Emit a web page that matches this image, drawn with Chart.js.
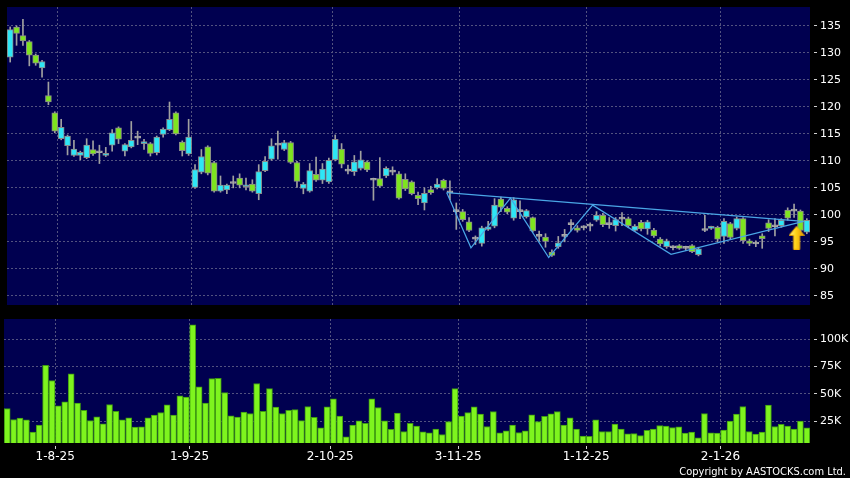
<!DOCTYPE html>
<html><head><meta charset="utf-8">
<script src="https://cdn.jsdelivr.net/npm/chart.js@4.4.1/dist/chart.umd.min.js"></script>
<style>
html,body{margin:0;padding:0;background:#000;width:850px;height:478px;overflow:hidden;}
#p{position:absolute;left:0;top:0;}
#v{position:absolute;left:0;top:312px;}
#copy{position:absolute;right:4px;top:465px;line-height:13px;color:#fff;font-size:11px;font-family:'DejaVu Sans Condensed','DejaVu Sans',sans-serif;white-space:nowrap;}
</style></head><body>
<canvas id="p" width="850" height="312"></canvas>
<canvas id="v" width="850" height="166"></canvas>
<div id="copy">Copyright by AASTOCKS.com Ltd.</div>
<script>
// ---- data ----
const dates = ['23-7-25','24-7-25','25-7-25','28-7-25','29-7-25','30-7-25','31-7-25',
'1-8-25','4-8-25','5-8-25','6-8-25','7-8-25','8-8-25','11-8-25','12-8-25','13-8-25','14-8-25','15-8-25','18-8-25','19-8-25','20-8-25','21-8-25','22-8-25','25-8-25','26-8-25','27-8-25','28-8-25','29-8-25',
'1-9-25','2-9-25','3-9-25','4-9-25','5-9-25','8-9-25','9-9-25','10-9-25','11-9-25','12-9-25','15-9-25','16-9-25','17-9-25','18-9-25','19-9-25','22-9-25','23-9-25','24-9-25','25-9-25','26-9-25','29-9-25','30-9-25',
'2-10-25','3-10-25','6-10-25','8-10-25','9-10-25','10-10-25','13-10-25','14-10-25','15-10-25','16-10-25','17-10-25','20-10-25','21-10-25','22-10-25','23-10-25','24-10-25','27-10-25','28-10-25','30-10-25','31-10-25',
'3-11-25','4-11-25','5-11-25','6-11-25','7-11-25','10-11-25','11-11-25','12-11-25','13-11-25','14-11-25','17-11-25','18-11-25','19-11-25','20-11-25','21-11-25','24-11-25','25-11-25','26-11-25','27-11-25','28-11-25',
'1-12-25','2-12-25','3-12-25','4-12-25','5-12-25','8-12-25','9-12-25','10-12-25','11-12-25','12-12-25','15-12-25','16-12-25','17-12-25','18-12-25','19-12-25','22-12-25','23-12-25','24-12-25','29-12-25','30-12-25','31-12-25',
'2-1-26','5-1-26','6-1-26','7-1-26','8-1-26','9-1-26','12-1-26','13-1-26','14-1-26','15-1-26','16-1-26','19-1-26','20-1-26','21-1-26','22-1-26'];

const open  = [129.2,134.8,133.2,132.1,129.6,127.2,122.1,118.9,114.1,112.8,111.0,111.0,110.6,112.1,111.5,111.0,112.9,116.1,111.8,112.6,114.2,113.2,113.2,111.5,114.9,115.8,118.9,113.5,111.3,105.1,107.9,112.6,109.7,104.4,104.6,105.8,106.8,105.2,105.7,103.9,108.2,110.3,112.9,112.1,113.4,109.7,104.9,104.4,107.5,106.4,106.1,110.2,112.2,108.1,108.0,108.6,109.8,106.4,106.7,107.2,107.9,107.6,106.6,106.1,103.6,102.2,104.7,105.0,106.4,104.1,100.6,100.6,98.7,95.5,94.7,97.3,97.9,102.9,101.2,99.4,100.6,99.6,99.5,96.0,95.9,93.1,94.1,96.0,98.2,97.6,97.6,97.9,99.0,99.9,98.2,98.0,99.2,99.3,97.1,98.6,97.4,97.2,95.5,94.1,93.9,94.3,93.8,94.3,92.6,97.1,97.5,97.7,96.0,98.4,97.5,99.3,95.2,94.6,96.1,98.5,97.8,98.0,100.9,100.7,100.7,96.8];
const high  = [134.8,135.0,136.2,132.3,129.8,128.6,124.6,119.1,117.7,114.8,113.8,111.8,114.1,113.7,112.9,112.5,115.8,116.3,113.2,117.3,115.5,114.0,113.4,114.6,116.1,120.9,119.1,113.7,117.7,109.3,112.1,112.8,109.9,107.2,105.7,107.2,107.6,106.8,106.5,109.3,110.8,114.1,115.5,113.8,113.6,109.9,106.0,109.5,110.7,109.5,110.5,114.8,113.2,109.2,111.0,111.8,110.0,106.8,110.6,108.9,108.9,108.0,107.6,106.3,104.2,105.0,105.3,106.7,106.6,106.3,102.2,101.0,99.5,96.1,97.9,98.8,103.0,103.3,101.5,103.2,102.6,101.0,99.6,97.0,96.5,93.5,96.0,97.3,99.1,98.0,98.0,98.5,100.6,100.3,99.5,99.5,100.4,99.6,98.2,99.0,99.0,97.5,95.8,95.5,94.3,94.5,94.2,94.5,94.0,99.9,97.9,97.9,99.3,98.6,99.6,99.5,95.5,95.2,96.5,99.1,99.3,99.3,101.3,102.0,100.9,99.3];
const low   = [128.3,131.4,131.4,127.6,127.7,125.5,120.4,115.2,113.9,111.1,110.8,110.2,110.4,111.0,109.5,110.8,111.8,113.2,110.9,112.4,113.0,112.1,110.9,111.1,114.4,115.6,114.8,110.9,111.0,104.9,107.6,107.4,104.2,104.2,103.9,105.0,105.0,104.6,104.2,102.8,108.0,110.1,110.3,111.9,109.5,105.1,103.9,104.2,106.2,105.8,105.8,110.0,108.7,107.6,107.3,108.3,108.0,102.7,105.1,106.9,107.4,102.9,104.5,103.7,101.9,100.9,103.8,104.8,104.6,102.8,97.3,98.8,96.9,94.5,94.2,97.1,97.6,100.6,100.2,99.0,99.3,99.4,96.8,95.1,94.0,92.3,93.8,95.0,97.0,96.8,97.2,97.0,98.8,97.8,97.5,97.0,98.0,97.6,96.9,97.0,96.4,95.8,94.2,93.8,93.5,93.6,93.4,93.0,92.4,96.9,97.3,95.0,94.7,95.5,97.2,94.7,94.3,94.1,93.8,96.9,96.1,97.7,99.0,99.5,96.8,96.5];
const close = [134.3,133.6,132.2,129.6,128.1,128.4,120.9,115.5,116.2,114.6,112.2,111.6,112.9,111.3,111.5,111.4,115.2,114.0,113.0,113.8,114.2,113.5,111.4,114.4,115.9,117.7,115.0,111.9,114.4,108.4,110.8,107.7,104.4,105.5,105.5,105.8,105.5,105.5,104.4,108.0,109.9,112.8,112.9,113.4,109.7,106.2,105.7,108.2,106.4,108.5,110.1,114.0,109.4,108.1,109.8,110.2,108.3,106.4,105.3,108.6,107.9,103.1,104.8,103.9,103.0,104.0,104.1,105.7,104.9,104.1,100.6,99.1,97.1,95.5,97.6,97.8,101.8,101.4,100.5,102.8,100.6,100.8,97.0,96.0,95.1,92.5,94.8,96.0,98.2,97.1,97.6,97.9,99.9,98.2,98.2,99.1,99.2,98.0,97.9,97.4,98.7,96.1,94.6,95.2,93.9,93.8,93.8,93.2,93.7,97.1,97.8,95.5,98.8,95.8,99.3,95.2,94.7,94.6,95.6,97.5,97.8,99.0,99.4,100.7,97.1,99.0];
const volume = [36600,26500,27700,26200,14900,21300,76200,62200,39000,42700,68300,41500,34800,25600,29000,22600,40200,34100,26200,28000,19500,19800,28000,30500,32900,39900,30500,48200,47000,113100,56400,41500,64000,64300,51200,29900,28700,33200,32000,59500,34100,54900,37800,32000,34800,35700,25600,38400,28400,18900,38100,45400,29600,10700,21300,25300,22900,45400,37500,25300,17400,32300,15500,22900,20400,15200,14300,17700,12800,24700,54900,29600,32900,38100,31400,20100,33800,14300,16200,21300,14600,16200,30800,24700,29300,31700,33800,21300,28000,17700,11300,11000,26200,15500,15500,22300,17700,13400,13700,11900,16500,17700,21000,20400,19200,19800,14000,14900,9800,32000,14300,14000,16800,25000,31400,38400,15500,13100,14900,39600,20100,22000,20400,17700,25000,18900];

const tickDates  = ['1-8-25','1-9-25','2-10-25','3-11-25','1-12-25','2-1-26'];
const priceTicks = [85,90,95,100,105,110,115,120,125,130,135];
const volTicks   = [25000,50000,75000,100000];
// drawn pattern lines: [day index, price]
const zigzag   = [[68.5,104.1],[72.3,93.9],[78.5,103.1],[84.5,92.1],[91.4,101.8],[103.7,92.7],[124.5,98.8]];
const neckline = [[68.5,104.1],[124.5,98.8]];
const arrowPoint = [[123.4,95.75]];

// ---- styles ----
const NAVY='#000050', GRID='#52527f', CYAN='#2ee6f6', GREEN='#7ee41f', DOJI='#a8a8a8', WICK='#a0a0a0';
const FONT='DejaVu Sans';
const idx = dates.map((d,i)=>i);
const tickIdx = tickDates.map(d=>dates.indexOf(d));
const xMin=-0.5, xMax=dates.length-0.5;

const navyBg={id:'navyBg',beforeDraw(c){const a=c.chartArea,x=c.ctx;x.save();x.fillStyle=NAVY;x.fillRect(a.left,a.top,a.right-a.left,a.bottom-a.top);x.restore();}};

function bodyColor(i){return close[i]>open[i]?CYAN:(close[i]<open[i]?GREEN:DOJI);}

// arrow marker
const arrowImg=document.createElement('canvas');
arrowImg.width=16;arrowImg.height=24;
(function(){const g=arrowImg.getContext('2d');
g.beginPath();g.moveTo(8,0.5);g.lineTo(15.5,9.5);g.lineTo(11,9.5);g.lineTo(11,23.5);g.lineTo(5,23.5);g.lineTo(5,9.5);g.lineTo(0.5,9.5);g.closePath();
const gr=g.createLinearGradient(0,0,16,0);gr.addColorStop(0,'#fff59a');gr.addColorStop(0.45,'#ffd418');gr.addColorStop(1,'#e08c00');
g.fillStyle=gr;g.fill();g.strokeStyle='#f5b000';g.lineWidth=1;g.stroke();})();

Chart.defaults.font.family=FONT;
Chart.defaults.animation=false;

const xScaleCommon={type:'linear',min:xMin,max:xMax,offset:false,
  afterBuildTicks:s=>{s.ticks=tickIdx.map(i=>({value:i+0.5}));},
  border:{display:false,dash:[2,2]}};

new Chart(document.getElementById('p'),{
  type:'bar',
  data:{datasets:[
    {type:'line',data:arrowPoint.map(p=>({x:p[0],y:p[1]})),showLine:false,pointStyle:arrowImg,pointRadius:6,order:0},
    {type:'line',data:zigzag.map(p=>({x:p[0],y:p[1]})),borderColor:'#4aa6e6',borderWidth:1.2,pointRadius:0,tension:0,order:1},
    {type:'line',data:neckline.map(p=>({x:p[0],y:p[1]})),borderColor:'#4aa6e6',borderWidth:1.2,pointRadius:0,tension:0,order:1},
    {data:idx.map(i=>({x:i,y:[open[i],close[i]]})),backgroundColor:c=>bodyColor(c.dataIndex),
     borderColor:c=>open[c.dataIndex]===close[c.dataIndex]?DOJI:'#8a8a8a',borderWidth:1,borderSkipped:false,
     barThickness:6,grouped:false,minBarLength:2,order:2},
    {data:idx.map(i=>({x:i,y:[low[i],high[i]]})),backgroundColor:WICK,borderWidth:0,barThickness:1,grouped:false,order:3}
  ]},
  options:{responsive:false,animation:false,
    layout:{padding:{left:4,top:6,bottom:6,right:0}},
    plugins:{legend:{display:false},tooltip:{enabled:false}},
    scales:{
      x:Object.assign({},xScaleCommon,{ticks:{display:false},grid:{color:GRID,drawTicks:false,offset:false},
        afterFit:s=>{s.height=0;s.paddingLeft=0;s.paddingRight=0;}}),
      y:{position:'right',min:83.3,max:138.5,beginAtZero:false,
        afterBuildTicks:s=>{s.ticks=priceTicks.map(v=>({value:v}));},
        ticks:{color:'#fff',font:{size:11,family:FONT},padding:3},
        grid:{color:GRID,tickLength:7,tickColor:'#d0d0d0',tickBorderDash:[0,4,3,20]},
        border:{display:false,dash:[2,2]},
        afterFit:s=>{s.width=40;s.paddingTop=0;s.paddingBottom=0;}}
    }
  },
  plugins:[navyBg]
});

new Chart(document.getElementById('v'),{
  type:'bar',
  data:{datasets:[
    {data:idx.map(i=>({x:i,y:volume[i]})),backgroundColor:'#7ef41e',borderColor:'#3f9a12',borderWidth:1,borderSkipped:false,barThickness:6,grouped:false}
  ]},
  options:{responsive:false,animation:false,
    layout:{padding:{left:4,top:7,bottom:0,right:0}},
    plugins:{legend:{display:false},tooltip:{enabled:false}},
    scales:{
      x:Object.assign({},xScaleCommon,{
        ticks:{color:'#fff',font:{size:12,family:FONT},padding:1,maxRotation:0,autoSkip:false,
          callback:v=>dates[Math.floor(v)]},
        grid:{color:GRID,tickLength:6,tickColor:'#d0d0d0',tickBorderDash:[0,3,3,20],offset:false},
        afterFit:s=>{s.height=35;s.paddingLeft=0;s.paddingRight=0;}}),
      y:{position:'right',min:5000,max:118500,beginAtZero:false,
        afterBuildTicks:s=>{s.ticks=volTicks.map(v=>({value:v}));},
        ticks:{color:'#fff',font:{size:11,family:FONT},padding:3,callback:v=>(v/1000)+'K'},
        grid:{color:GRID,tickLength:7,tickColor:'#d0d0d0',tickBorderDash:[0,4,3,20]},
        border:{display:false,dash:[2,2]},
        afterFit:s=>{s.width=40;s.paddingTop=0;s.paddingBottom=0;}}
    }
  },
  plugins:[navyBg]
});
</script>
</body></html>
